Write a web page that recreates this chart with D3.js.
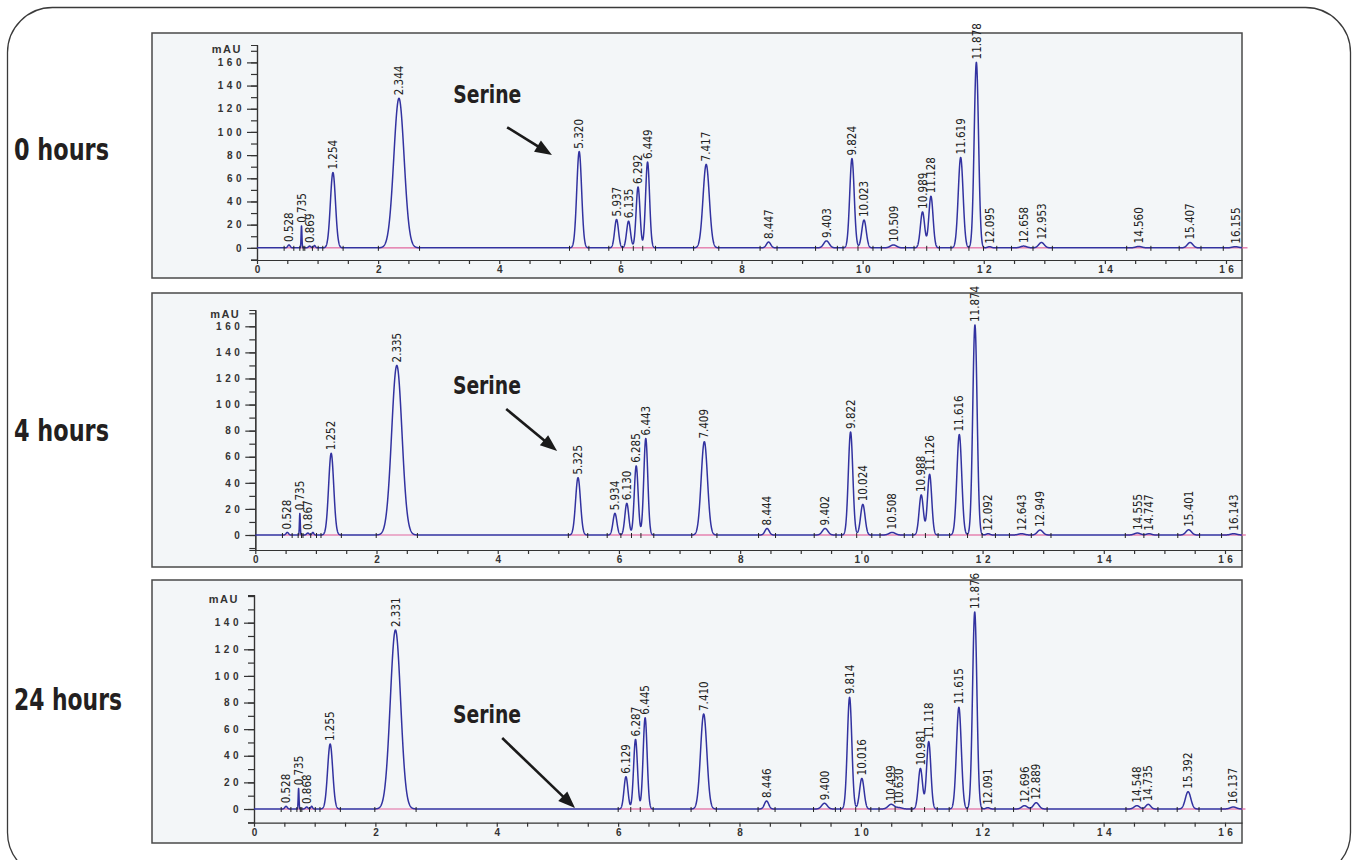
<!DOCTYPE html>
<html lang="en">
<head>
<meta charset="UTF-8">
<title>Serine chromatograms</title>
<script src="https://cdnjs.cloudflare.com/ajax/libs/d3/7.8.5/d3.min.js"></script>
<style>
    body { margin: 0; background: #fff; }
    svg#main { display: block; }
    rect.frame { fill: none; stroke: #3a3a3a; stroke-width: 1.3px; }
    rect.panel { fill: #f3f6f8; stroke: #4a4a4a; stroke-width: 1.5px; }
    text.hours, text.serine {
        font-family: "Liberation Sans Narrow", "Arial Narrow", "DejaVu Sans Condensed", sans-serif;
        font-weight: bold; fill: #231f20;
    }
    text.hours { font-size: 31px; }
    text.serine { font-size: 24px; }
    text.peak {
        font-family: "Liberation Sans Narrow", "Arial Narrow", "DejaVu Sans Condensed", sans-serif;
        font-size: 11.5px; fill: #222;
    }
    .axis text, text.unit {
        font-family: "Liberation Sans", Arial, sans-serif;
        font-weight: bold; font-size: 10px; letter-spacing: 3.5px; fill: #333;
    }
    text.unit { font-size: 11px; letter-spacing: 1.5px; }
    .axis path, .axis line { stroke: #333; stroke-width: 1.2px; }
    path.trace { fill: none; stroke: #3232a0; stroke-width: 1.5px; stroke-linejoin: round; }
    line.base { stroke: #e2679f; stroke-width: 1.2px; }
    line.mark { stroke: #222; stroke-width: 1px; }
    line.arrow { stroke: #1a1a1a; stroke-width: 2.6px; }
    path.arrowhead { fill: #1a1a1a; }
</style>
</head>
<body>
<svg id="main" width="1352" height="860"></svg>
<script>
"use strict";

// ---- data ----
const hourLabels = ["0 hours", "4 hours", "24 hours"];

// retention time (min), height (mAU), peak sigma (min)
const rt0 = [0.528, 0.735, 0.869, 0.95, 1.254, 2.344, 5.320, 5.937, 6.135, 6.292, 6.449, 7.417, 8.447, 9.403,
    9.824, 10.023, 10.509, 10.989, 11.128, 11.619, 11.878, 12.095, 12.658, 12.953, 14.560, 15.407, 16.155];
const ht0 = [2.5, 19, 1.5, 2, 65, 129, 83, 24.5, 23, 52.5, 74, 72, 5, 6,
    77, 24, 2.5, 31, 44.5, 78, 160, 1, 1.5, 4.6, 1.2, 4.6, 1];
const sd0 = [0.02, 0.007, 0.02, 0.015, 0.042, 0.085, 0.04, 0.032, 0.032, 0.032, 0.033, 0.052, 0.035, 0.045,
    0.037, 0.037, 0.05, 0.035, 0.035, 0.04, 0.036, 0.03, 0.05, 0.045, 0.05, 0.045, 0.05];

const rt4 = [0.528, 0.735, 0.867, 0.95, 1.252, 2.335, 5.325, 5.934, 6.130, 6.285, 6.443, 7.409, 8.444, 9.402,
    9.822, 10.024, 10.508, 10.988, 11.126, 11.616, 11.874, 12.092, 12.643, 12.949, 14.555, 14.747, 15.401, 16.143];
const ht4 = [2, 16.6, 1.5, 2, 62.6, 130, 44, 16.6, 24.3, 53, 74, 71.6, 5, 5,
    79, 23.5, 2, 30.7, 46.5, 77, 161, 1, 1, 3.8, 1.5, 1, 4, 1];
const sd4 = [0.02, 0.007, 0.02, 0.015, 0.042, 0.085, 0.04, 0.032, 0.032, 0.032, 0.033, 0.052, 0.035, 0.045,
    0.037, 0.037, 0.05, 0.035, 0.035, 0.04, 0.036, 0.03, 0.05, 0.045, 0.05, 0.04, 0.045, 0.05];

const rt24 = [0.528, 0.735, 0.868, 0.95, 1.255, 2.331, 6.129, 6.287, 6.445, 7.410, 8.446, 9.400, 9.814,
    10.016, 10.499, 10.630, 10.981, 11.118, 11.615, 11.876, 12.091, 12.696, 12.889, 14.548, 14.735, 15.392, 16.137];
const ht24 = [2, 15.5, 1.5, 2, 48.8, 134.5, 24.3, 52.3, 68.6, 71.4, 6, 4.3, 83.9,
    23, 3.5, 1, 30.5, 50.6, 76.4, 148, 1, 2.5, 4.7, 2.5, 3.5, 13, 1.5];
const sd24 = [0.02, 0.007, 0.02, 0.015, 0.042, 0.085, 0.032, 0.032, 0.033, 0.052, 0.035, 0.045, 0.037,
    0.037, 0.05, 0.05, 0.035, 0.035, 0.04, 0.036, 0.03, 0.045, 0.045, 0.045, 0.04, 0.045, 0.05];

// small bumps that carry no retention-time label
const unlabelled = [0.95];

const xTickValues = d3.range(0, 16.01, 0.5);
const xTickLabels = [0, 2, 4, 6, 8, 10, 12, 14, 16];
const yMajor = [[0, 20, 40, 60, 80, 100, 120, 140, 160], [0, 20, 40, 60, 80, 100, 120, 140, 160], [0, 20, 40, 60, 80, 100, 120, 140]];
const yMinor = [d3.range(-10, 171, 10), d3.range(-10, 171, 10), d3.range(-10, 161, 10)];

// "Serine" annotation: text anchor and arrow, in (min, mAU)
const serineText = [[3.24, 125], [3.26, 108], [3.28, 64.6]];
const serineFrom = [[4.13, 104], [4.14, 96.6], [4.09, 53.3]];
const serineTo = [[4.87, 80], [4.98, 64.4], [5.29, 0.75]];

// ---- layout ----
const panels = [
    { box: [152, 33, 1242, 278], x0: 257, x16: 1226, yTop: 45, axisY: 260, yMin: -10.5, yMax: 175, labelY: 160, labelW: 95 },
    { box: [152, 293, 1242, 567], x0: 255.3, x16: 1225, yTop: 310, axisY: 550, yMin: -11.5, yMax: 172.5, labelY: 441, labelW: 95 },
    { box: [152, 580, 1242, 843], x0: 254, x16: 1225, yTop: 595, axisY: 822.7, yMin: -10.3, yMax: 160.8, labelY: 710, labelW: 108 }
];
const series = [[rt0, ht0, sd0], [rt4, ht4, sd4], [rt24, ht24, sd24]];

const svg = d3.select("svg#main");
const fmt = d3.format(".3f");

svg.append("rect").attr("class", "frame")
    .attr("x", 7.5).attr("y", 7.5).attr("width", 1343).attr("height", 870)
    .attr("rx", 45).attr("ry", 45);

panels.forEach(function (p, k) {
    const [rts, hts, sds] = series[k];
    const [bx0, by0, bx1, by1] = p.box;
    const g = svg.append("g").attr("class", "chrom");

    g.append("rect").attr("class", "panel")
        .attr("x", bx0).attr("y", by0).attr("width", bx1 - bx0).attr("height", by1 - by0);

    svg.append("text").attr("class", "hours")
        .attr("x", 14).attr("y", p.labelY)
        .attr("textLength", p.labelW).attr("lengthAdjust", "spacingAndGlyphs")
        .text(hourLabels[k]);

    const tEnd = 16 * (bx1 - p.x0) / (p.x16 - p.x0);
    const x = d3.scaleLinear().domain([0, tEnd]).range([p.x0, bx1]);
    const y = d3.scaleLinear().domain([p.yMin, p.yMax]).range([p.axisY, p.yTop]);

    // axes
    g.append("g").attr("class", "axis")
        .attr("transform", "translate(0," + p.axisY + ")")
        .call(d3.axisBottom(x).tickValues(xTickValues).tickSize(4).tickSizeOuter(0).tickPadding(2)
            .tickFormat(d => xTickLabels.includes(d) ? d : ""))
        .selectAll(".tick text").attr("dx", "0.18em");

    g.append("g").attr("class", "axis")
        .attr("transform", "translate(" + p.x0 + ",0)")
        .call(d3.axisLeft(y).tickValues(yMinor[k]).tickSize(6).tickFormat(""));

    g.append("g").attr("class", "axis")
        .attr("transform", "translate(" + p.x0 + ",0)")
        .call(d3.axisLeft(y).tickValues(yMajor[k]).tickSize(10).tickSizeOuter(0).tickPadding(2));

    g.append("text").attr("class", "unit")
        .attr("x", p.x0 - 15).attr("y", y(p.yMax) + 8)
        .attr("text-anchor", "end")
        .text("mAU");

    // integration limits, split in the valley when neighbours overlap
    const starts = rts.map((t, i) => t - 4 * sds[i]);
    const ends = rts.map((t, i) => t + 4 * sds[i]);
    for (let i = 0; i + 1 < rts.length; i++) {
        if (ends[i] > starts[i + 1]) {
            const v = (rts[i] * sds[i + 1] + rts[i + 1] * sds[i]) / (sds[i] + sds[i + 1]);
            ends[i] = v;
            starts[i + 1] = v;
        }
    }

    g.selectAll("line.base").data(rts).enter().append("line")
        .attr("class", "base")
        .attr("x1", (d, i) => x(starts[i])).attr("x2", (d, i) => x(ends[i]))
        .attr("y1", y(0)).attr("y2", y(0));

    // trace
    const signal = function (t) {
        let s = 0;
        for (let i = 0; i < rts.length; i++) {
            const z = (t - rts[i]) / sds[i];
            if (Math.abs(z) < 8) s += hts[i] * Math.exp(-0.5 * z * z);
        }
        return s;
    };
    const pts = d3.range(0, tEnd, 0.002).map(t => [t, signal(t)]);

    g.append("path").attr("class", "trace")
        .attr("d", d3.line().x(d => x(d[0])).y(d => y(d[1]))(pts));

    const marks = Array.from(new Set(starts.concat(ends))).filter(t => t > 0 && t < tEnd);
    g.selectAll("line.mark").data(marks).enter().append("line")
        .attr("class", "mark")
        .attr("x1", d => x(d)).attr("x2", d => x(d))
        .attr("y1", y(0) - 2).attr("y2", y(0) + 3);

    // retention time labels
    g.selectAll("text.peak").data(rts.filter(t => !unlabelled.includes(t))).enter().append("text")
        .attr("class", "peak")
        .attr("transform", d => "translate(" + x(d) + "," + (y(hts[rts.indexOf(d)]) - 3) + ") rotate(-90)")
        .attr("dy", "0.36em")
        .text(d => fmt(d));

    // Serine annotation
    g.append("text").attr("class", "serine")
        .attr("x", x(serineText[k][0])).attr("y", y(serineText[k][1]))
        .attr("textLength", 68).attr("lengthAdjust", "spacingAndGlyphs")
        .text("Serine");

    const ax0 = x(serineFrom[k][0]), ay0 = y(serineFrom[k][1]);
    const ax1 = x(serineTo[k][0]), ay1 = y(serineTo[k][1]);
    const ang = Math.atan2(ay1 - ay0, ax1 - ax0);
    const headLen = 17, headHalf = 6.5;
    g.append("line").attr("class", "arrow")
        .attr("x1", ax0).attr("y1", ay0)
        .attr("x2", ax1 - (headLen - 2) * Math.cos(ang)).attr("y2", ay1 - (headLen - 2) * Math.sin(ang));
    const bx = ax1 - headLen * Math.cos(ang), byy = ay1 - headLen * Math.sin(ang);
    g.append("path").attr("class", "arrowhead")
        .attr("d", "M" + ax1 + "," + ay1 +
            "L" + (bx + headHalf * Math.sin(ang)) + "," + (byy - headHalf * Math.cos(ang)) +
            "L" + (bx - headHalf * Math.sin(ang)) + "," + (byy + headHalf * Math.cos(ang)) + "Z");
});
</script>
</body>
</html>
